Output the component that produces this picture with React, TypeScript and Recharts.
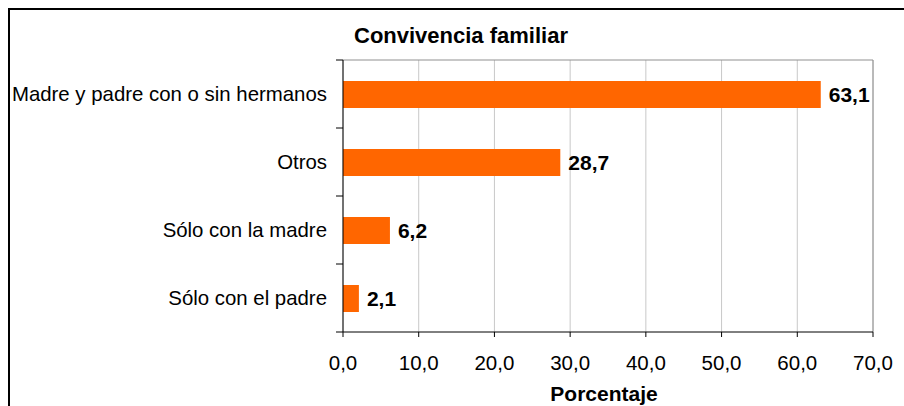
import React from 'react';
import {
  BarChart, Bar, XAxis, YAxis, CartesianGrid, LabelList, ReferenceLine
} from 'recharts';

const CATEGORIES = ['Madre y padre con o sin hermanos', 'Otros', 'Sólo con la madre', 'Sólo con el padre'];
const VALUES = [63.1, 28.7, 6.2, 2.1];
const X_TICKS = [0, 10, 20, 30, 40, 50, 60, 70];

const data = CATEGORIES.map((name, i) => ({ name, value: VALUES[i] }));

const W = 904;
const H = 406;
const MARGIN = { top: 60, right: 31, bottom: 0, left: 0 };
const X_AXIS_H = 74;
const Y_AXIS_W = 343;
const FONT = '"Liberation Sans", Arial, sans-serif';

const fmt = (v: number) => v.toFixed(1).replace('.', ',');

const bandHalf = (H - MARGIN.top - X_AXIS_H) / CATEGORIES.length / 2;

const CategoryTick = (props: any) => {
  const { x, y, payload, index } = props;
  const axisX = x + 16;
  return (
    <g>
      <line x1={axisX - 7} x2={axisX} y1={y - bandHalf} y2={y - bandHalf} stroke="#000" />
      {index === CATEGORIES.length - 1 && (
        <line x1={axisX - 7} x2={axisX} y1={y + bandHalf} y2={y + bandHalf} stroke="#000" />
      )}
      <text x={x} y={y} dy="0.35em" textAnchor="end" fill="#000" fontSize={20.4} fontFamily={FONT}>
        {payload.value}
      </text>
    </g>
  );
};

export default function App() {
  return (
    <div style={{ position: 'absolute', left: 0, top: 0, width: W, height: H, background: '#fff', fontFamily: FONT }}>
      <div style={{
        position: 'absolute', left: 8, top: 8, width: W - 8, height: H - 8,
        borderLeft: '2px solid #000', borderTop: '2px solid #000', boxSizing: 'border-box'
      }} />
      <div style={{
        position: 'absolute', left: 311, top: 26, width: 300, textAlign: 'center',
        fontSize: 22, lineHeight: '20px', fontWeight: 'bold', color: '#000'
      }}>
        Convivencia familiar
      </div>
      <BarChart
        width={W}
        height={H}
        data={data}
        layout="vertical"
        margin={MARGIN}
        style={{ position: 'absolute', left: 0, top: 0 }}
      >
        <CartesianGrid horizontal={false} stroke="#c8c8c8" />
        <CartesianGrid
          vertical={false}
          stroke="#909090"
          horizontalCoordinatesGenerator={({ offset }: any) => [offset.top]}
        />
        <ReferenceLine x={70} stroke="#909090" />
        <XAxis
          type="number"
          domain={[0, 70]}
          ticks={X_TICKS}
          tickFormatter={fmt}
          height={X_AXIS_H}
          stroke="#000"
          tickSize={5}
          tickMargin={18}
          tick={{ fill: '#000', fontSize: 20.5, fontFamily: FONT }}
          label={{
            value: 'Porcentaje', position: 'insideBottom', offset: 5, dx: -4,
            fill: '#000', fontSize: 21, fontWeight: 'bold', fontFamily: FONT
          }}
        />
        <YAxis
          type="category"
          dataKey="name"
          width={Y_AXIS_W}
          stroke="#000"
          tickSize={0}
          tickMargin={16}
          tick={<CategoryTick />}
          interval={0}
        />
        <Bar dataKey="value" fill="#FF6600" barSize={27} isAnimationActive={false}>
          <LabelList
            dataKey="value"
            position="right"
            offset={8}
            formatter={(v: any) => fmt(Number(v))}
            fill="#000"
            fontSize={21}
            fontWeight="bold"
            fontFamily={FONT}
          />
        </Bar>
      </BarChart>
    </div>
  );
}
